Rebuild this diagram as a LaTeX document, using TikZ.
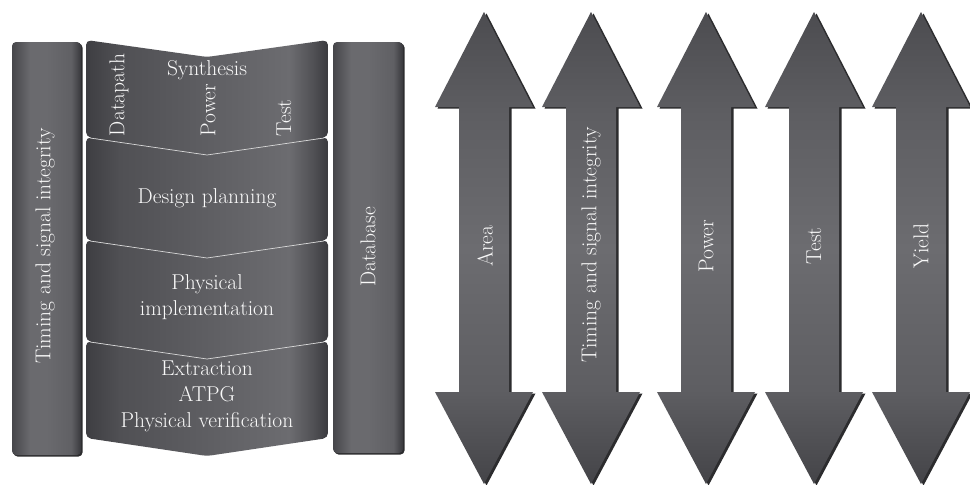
\documentclass[tikz,border=0pt]{standalone}
\usetikzlibrary{calc}

% column and arrow greys
\definecolor{colA}{HTML}{46464A}
\definecolor{colB}{HTML}{6A6A6E}
\definecolor{colC}{HTML}{38383C}
\definecolor{chA}{HTML}{3E3E42}
\definecolor{chB}{HTML}{505054}
\definecolor{chC}{HTML}{606064}
\definecolor{chD}{HTML}{6C6C70}
\definecolor{chE}{HTML}{3A3A3E}
\definecolor{arA}{HTML}{444448}
\definecolor{arB}{HTML}{5E5E62}
\definecolor{arC}{HTML}{6C6C70}
\definecolor{arD}{HTML}{4C4C50}
\definecolor{shadowgrey}{HTML}{2C2C2E}

% side-to-side shade of the two upright bars
\pgfdeclarehorizontalshading{barshade}{100bp}{%
  color(0bp)=(colA); color(25bp)=(colA); color(38bp)=(colB);
  color(50bp)=(colB); color(68bp)=(chC); color(75bp)=(colC); color(100bp)=(colC)}
% side-to-side shade of the flow chevrons
\pgfdeclarehorizontalshading{chevshade}{100bp}{%
  color(0bp)=(chA); color(25bp)=(chA); color(32bp)=(chB);
  color(52bp)=(chC); color(67bp)=(chD); color(72bp)=(chB); color(75bp)=(chE); color(100bp)=(chE)}
% top-to-bottom shade of the double arrows
\pgfdeclareverticalshading{arrshade}{100bp}{%
  color(0bp)=(arA); color(25bp)=(arA); color(35bp)=(arB);
  color(50bp)=(arC); color(64bp)=(arB); color(75bp)=(arD); color(100bp)=(arD)}

\begin{document}
\begin{tikzpicture}[x=1pt,y=-1pt,
  lbl/.style={text=white!95!gray, font=\fontsize{21.5}{26}\selectfont, align=center, inner sep=0pt},
  vlbl/.style={lbl, rotate=90},
  bar/.style={shading=barshade, rounded corners=4pt},
  chev/.style={shading=chevshade, rounded corners=5pt},
  seam/.style={draw=white!70!gray, line width=0.7pt},
  dblarrow/.style={shading=arrshade},
  arrshadow/.style={fill=shadowgrey}]

\useasboundingbox[fill=white] (0,0) rectangle (970,485);

% upright bars: timing on the left, database on the right
\fill[shadowgrey, rounded corners=4pt] (13.5,43.5) rectangle (82.5,456.5);
\path[bar] (12,42) rectangle (81,455);
\fill[shadowgrey, rounded corners=4pt] (334.5,43.5) rectangle (404.5,454.5);
\path[bar] (333,42) rectangle (403,453);

% design flow chevrons
\foreach \ya/\yb in {40/137, 137/240, 240/341, 341/438} {
  \path[chev] (86,\ya) -- (207,\ya+17) -- (328,\ya) -- (328,\yb)
    -- (207,\yb+18) -- (86,\yb) -- cycle;
}
\foreach \ya in {137, 240, 341} {
  \draw[seam] (90,\ya+1) -- (207,\ya+18) -- (324,\ya+1);
}

% double-headed arrows
\foreach \cx in {484, 591, 706, 814, 921} {
  \fill[arrshadow, shift={(2.5,1.5)}] (\cx,12) -- (\cx+49,107) -- (\cx+25,107)
    -- (\cx+25,392) -- (\cx+49,392) -- (\cx,484) -- (\cx-49,392) -- (\cx-25,392)
    -- (\cx-25,107) -- (\cx-49,107) -- cycle;
  \path[dblarrow] (\cx,12) -- (\cx+49,107) -- (\cx+25,107)
    -- (\cx+25,392) -- (\cx+49,392) -- (\cx,484) -- (\cx-49,392) -- (\cx-25,392)
    -- (\cx-25,107) -- (\cx-49,107) -- cycle;
}

% bar labels
\node[vlbl] (timing) at (45,246) {Timing and signal integrity};
\node[vlbl] (database) at (368,247) {Database};

% chevron labels
\node[lbl] (synthesis) at (207,70) {Synthesis};
\node[vlbl] (datapath) at (119,95) {Datapath};
\node[vlbl] (power) at (208,110) {Power};
\node[vlbl] (test) at (284,118) {Test};
\node[lbl] (planning) at (207,198) {Design planning};
\node[lbl] (implementation) at (207,297) {Physical\\implementation};
\node[lbl] (verification) at (207,396) {Extraction\\ATPG\\Physical verification};

% arrow labels
\node[vlbl] (area) at (485,246) {Area};
\node[vlbl] (timingB) at (591,245) {Timing and signal integrity};
\node[vlbl] (powerB) at (706,246) {Power};
\node[vlbl] (testB) at (814,246) {Test};
\node[vlbl] (yield) at (921,246) {Yield};
\end{tikzpicture}
\end{document}
